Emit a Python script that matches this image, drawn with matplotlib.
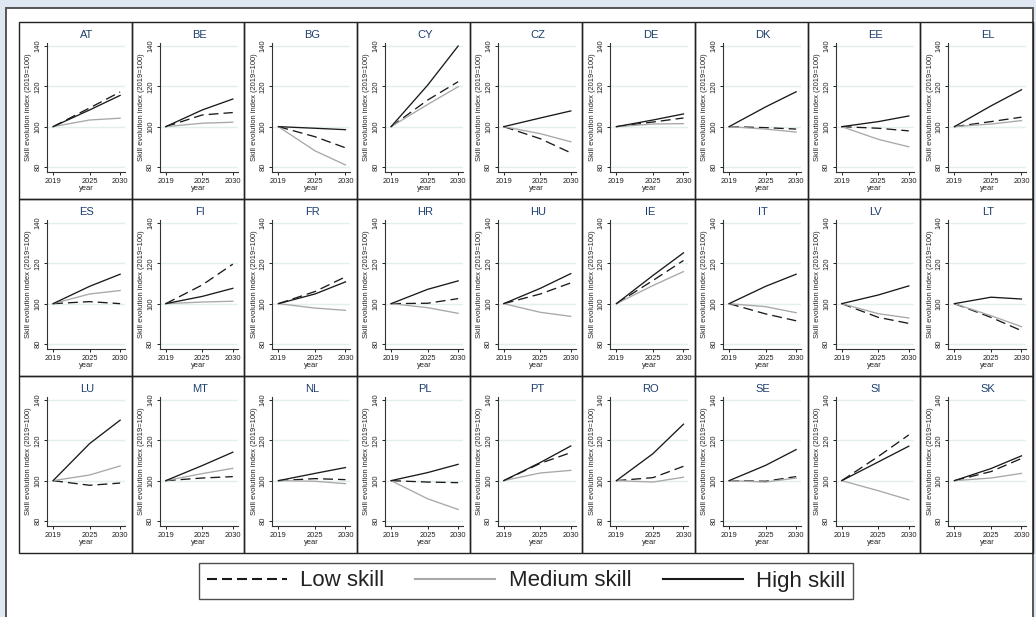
import matplotlib
matplotlib.use('Agg')
import matplotlib.pyplot as plt
from matplotlib.patches import Rectangle
from matplotlib.lines import Line2D

plt.rcParams['font.family'] = ['Liberation Sans', 'DejaVu Sans']

# ---------------- data ----------------
years = [2019, 2025, 2030]
countries = ["AT", "BE", "BG", "CY", "CZ", "DE", "DK", "EE", "EL",
             "ES", "FI", "FR", "HR", "HU", "IE", "IT", "LV", "LT",
             "LU", "MT", "NL", "PL", "PT", "RO", "SE", "SI", "SK"]
base_2019 = 100
low_2025 = [109.3, 105.8, 95.0, 113.2, 94.0, 102.3, 99.5, 99.2, 102.5,
            101.0, 109.3, 106.0, 100.2, 104.8, 111.5, 94.9, 93.2, 93.2,
            97.7, 101.3, 101.0, 99.3, 108.6, 101.5, 99.7, 112.0, 104.5]
low_2030 = [117.2, 107.0, 89.5, 122.3, 87.0, 104.3, 98.8, 97.9, 104.7,
            100.0, 119.6, 113.3, 102.5, 110.3, 121.4, 91.5, 90.2, 86.6,
            98.8, 102.0, 100.5, 99.0, 113.9, 107.1, 102.0, 122.7, 111.0]
med_2025 = [103.3, 101.7, 88.0, 111.0, 96.5, 101.3, 98.8, 93.7, 101.3,
            104.8, 100.8, 97.8, 98.0, 95.7, 109.0, 98.5, 95.0, 94.0,
            102.8, 103.5, 99.7, 91.0, 103.8, 99.3, 99.3, 95.0, 101.3]
med_2030 = [104.2, 102.2, 81.0, 119.8, 92.5, 101.5, 97.3, 90.0, 103.0,
            106.5, 101.2, 96.7, 95.2, 93.7, 115.9, 95.5, 92.9, 88.6,
            107.3, 106.1, 98.5, 85.7, 105.1, 101.7, 101.3, 90.5, 103.6]
high_2025 = [108.3, 108.3, 99.2, 120.6, 104.3, 103.3, 109.8, 102.5, 110.3,
             108.6, 103.6, 104.8, 107.1, 107.6, 114.0, 108.6, 104.3, 103.2,
             118.4, 107.5, 103.6, 104.0, 109.0, 113.4, 107.6, 109.3, 106.0]
high_2030 = [115.5, 113.7, 98.5, 140.0, 107.8, 106.3, 117.3, 105.3, 118.3,
             114.6, 107.6, 110.8, 111.3, 114.9, 125.2, 114.6, 108.8, 102.3,
             130.0, 114.1, 106.5, 108.1, 117.2, 128.0, 115.4, 117.1, 112.3]
yticks = [80, 100, 120, 140]
legend_labels = ["Low skill", "Medium skill", "High skill"]

# ---------------- styling ----------------
W, H = 1036, 617
fig = plt.figure(figsize=(W / 100, H / 100), dpi=100, facecolor='#dfe7f2')


def fx(x):
    return x / W


def fy(y):
    return 1 - y / H


# white inner box
fig.patches.append(Rectangle((fx(6), fy(660)), fx(1033) - fx(6), fy(8) - fy(660),
                             transform=fig.transFigure, facecolor='white',
                             edgecolor='#555555', lw=1.4, zorder=-5))

LOW_C = '#1a1a1a'
MED_C = '#a8a8a8'
HIGH_C = '#1a1a1a'

gx0, gy0 = 19, 22
pw = (1033 - 19) / 9
ph = (553 - 22) / 3

for i, c in enumerate(countries):
    r, col = divmod(i, 9)
    pl = gx0 + col * pw
    pt = gy0 + r * ph
    fig.patches.append(Rectangle((fx(pl), fy(pt + ph)), pw / W, ph / H,
                                 transform=fig.transFigure, fill=False,
                                 edgecolor='#222222', lw=1.0, zorder=1))
    ax = fig.add_axes([fx(pl + 28), fy(pt + 150), 78 / W, 129 / H])
    ax.set_facecolor('white')
    ax.plot(years, [base_2019, low_2025[i], low_2030[i]], color=LOW_C, lw=0.95,
            ls=(0, (7.5, 3.8)))
    ax.plot(years, [base_2019, med_2025[i], med_2030[i]], color=MED_C, lw=0.95)
    ax.plot(years, [base_2019, high_2025[i], high_2030[i]], color=HIGH_C, lw=0.95)
    ax.set_xlim(2018, 2030.8)
    ax.set_ylim(77.5, 141.5)
    ax.set_yticks(yticks)
    ax.set_xticks(years)
    ax.grid(axis='y', color='#e4eeee', lw=1.0)
    ax.set_axisbelow(True)
    for s in ('top', 'right'):
        ax.spines[s].set_visible(False)
    for s in ('left', 'bottom'):
        ax.spines[s].set_color('#333333')
        ax.spines[s].set_linewidth(0.8)
    ax.tick_params(labelsize=5.4, length=2.5, width=0.7, pad=1.5, colors='#222222')
    plt.setp(ax.get_yticklabels(), rotation=90, va='center')
    ax.set_ylabel('Skill evolution index (2019=100)', fontsize=5.4, labelpad=1.5,
                  color='#222222')
    ax.set_xlabel('year', fontsize=5.4, labelpad=0.3, color='#222222')
    fig.text(fx(pl + 28 + 40), fy(pt + 13), c, fontsize=8, color='#1d3f6e',
             ha='center', va='center')

handles = [Line2D([], [], color=LOW_C, lw=1.5, ls=(0, (4.8, 2.4))),
           Line2D([], [], color=MED_C, lw=1.5),
           Line2D([], [], color=HIGH_C, lw=1.5)]
leg = fig.legend(handles, legend_labels, loc='center', bbox_to_anchor=(fx(526), fy(581)),
                 ncol=3, fontsize=16, frameon=True, fancybox=False, edgecolor='#222222',
                 handlelength=3.6, handletextpad=0.6, columnspacing=1.4, borderpad=0.35)
leg.get_frame().set_linewidth(1.0)
for t in leg.get_texts():
    t.set_color('#222222')

fig.savefig('out.png', dpi=100, facecolor=fig.get_facecolor())
